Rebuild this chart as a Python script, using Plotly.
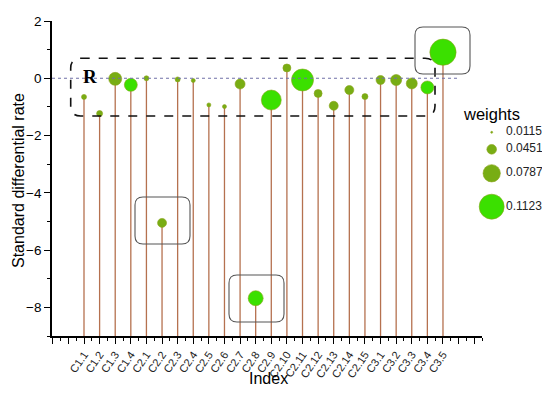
import plotly.graph_objects as go

# ---------------- data ----------------
categories = ["C1.1", "C1.2", "C1.3", "C1.4",
              "C2.1", "C2.2", "C2.3", "C2.4", "C2.5", "C2.6", "C2.7", "C2.8",
              "C2.9", "C2.10", "C2.11", "C2.12", "C2.13", "C2.14", "C2.15",
              "C3.1", "C3.2", "C3.3", "C3.4", "C3.5"]
rates = [-0.65, -1.23, -0.02, -0.23,
         0.00, -5.05, -0.04, -0.08, -0.93, -0.99, -0.20, -7.68,
         -0.76, 0.36, -0.06, -0.53, -0.96, -0.41, -0.64,
         -0.06, -0.06, -0.18, -0.32, 0.91]
weights = [0.0247, 0.0290, 0.0597, 0.0597,
           0.0247, 0.0422, 0.0247, 0.0203, 0.0203, 0.0203, 0.0466, 0.0685,
           0.0904, 0.0378, 0.0992, 0.0378, 0.0422, 0.0422, 0.0290,
           0.0422, 0.0510, 0.0510, 0.0597, 0.1180]
legend_weights = [0.0115, 0.0451, 0.0787, 0.1123]
legend_labels = ["0.0115", "0.0451", "0.0787", "0.1123"]
highlighted = {"C1.4", "C2.8", "C2.9", "C2.11", "C3.4", "C3.5"}

# ---------------- style ----------------
W, H = 550, 397
OFF = 8                                    # page body margin of the html page
PL, PR, PT, PB = 52, 482, 21, 336          # plot area in window pixels
YMIN, YMAX = -9, 2
XMIN, XMAX = -2.05, 25.5
OLIVE = "#78ad14"
BRIGHT = "#3be000"
STEM = "#b5714f"
FONT = "Liberation Sans, Arial, sans-serif"


def size_of(w):
    return 2 + (w - 0.0115) * 228


xs = list(range(len(categories)))
colors = [BRIGHT if c in highlighted else OLIVE for c in categories]

fig = go.Figure()

# stems
sx, sy = [], []
for x, v in zip(xs, rates):
    sx += [x, x, None]
    sy += [YMIN, v, None]
fig.add_trace(go.Scatter(x=sx, y=sy, mode="lines",
                         line=dict(color=STEM, width=1.3),
                         hoverinfo="skip", showlegend=False))

# markers
fig.add_trace(go.Scatter(
    x=xs, y=rates, mode="markers",
    marker=dict(size=[size_of(w) for w in weights], color=colors,
                line=dict(width=0.6, color="#8aa21a"), opacity=1),
    text=categories, showlegend=False))

# custom size legend on a pixel-unit overlay axis
leg_y = [132.3, 149.3, 173.3, 206.7]
fig.add_trace(go.Scatter(
    x=[491.7] * 4, y=leg_y, xaxis="x2", yaxis="y2", mode="markers",
    marker=dict(size=[size_of(w) for w in legend_weights],
                color=[OLIVE, OLIVE, OLIVE, BRIGHT], opacity=1,
                line=dict(width=0.6, color="#8aa21a")),
    opacity=1, showlegend=False, hoverinfo="skip"))
fig.add_trace(go.Scatter(
    x=[506] * 4, y=leg_y, xaxis="x2", yaxis="y2", mode="text",
    text=legend_labels, textposition="middle right",
    textfont=dict(family=FONT, size=12, color="#222"),
    showlegend=False, hoverinfo="skip"))


def rounded(x0, y0, x1, y1, r):
    return (f"M{x0 + r},{y0} L{x1 - r},{y0} Q{x1},{y0} {x1},{y0 + r} "
            f"L{x1},{y1 - r} Q{x1},{y1} {x1 - r},{y1} L{x0 + r},{y1} "
            f"Q{x0},{y1} {x0},{y1 - r} L{x0},{y0 + r} Q{x0},{y0} {x0 + r},{y0} Z")


shapes = [
    dict(type="line", xref="x2", yref="y", x0=PL, x1=460, y0=0, y1=0,
         line=dict(color="#7070a8", width=1.2, dash="dot")),
    dict(type="path", xref="x2", yref="y2", path=rounded(70.7, 58.3, 435, 116, 10),
         line=dict(color="#111", width=1.6, dash="dash")),
    dict(type="path", xref="x2", yref="y2", path=rounded(415, 27, 470, 74, 8),
         line=dict(color="#555", width=1.1)),
    dict(type="path", xref="x2", yref="y2", path=rounded(135, 197, 190, 244, 8),
         line=dict(color="#555", width=1.1)),
    dict(type="path", xref="x2", yref="y2", path=rounded(229, 275, 284, 322, 8),
         line=dict(color="#555", width=1.1)),
]

annotations = [
    dict(text="<b>R</b>", xref="x2", yref="y2", x=90, y=76, showarrow=False,
         font=dict(family="Liberation Serif, Times New Roman, serif", size=19, color="#000")),
    dict(text="weights", xref="x2", yref="y2", x=491, y=114, showarrow=False,
         font=dict(family=FONT, size=16.5, color="#000")),
    dict(text="Index", xref="x2", yref="y2", x=268, y=378, showarrow=False,
         font=dict(family=FONT, size=16, color="#000")),
    dict(text="Standard differential rate", xref="x2", yref="y2", x=18, y=181,
         showarrow=False, textangle=-90,
         font=dict(family=FONT, size=16, color="#000")),
]

tickvals = list(range(-2, 26))
ticktext = [categories[v] if 0 <= v < len(categories) else "" for v in tickvals]

fig.update_layout(
    width=W, height=H, margin=dict(l=0, r=0, t=0, b=0),
    paper_bgcolor="white", plot_bgcolor="rgba(0,0,0,0)",
    font=dict(family=FONT, color="#000"),
    shapes=shapes, annotations=annotations,
    xaxis=dict(domain=[(PL - OFF) / W, (PR - OFF) / W], anchor="y", range=[XMIN, XMAX],
               tickmode="array", tickvals=tickvals, ticktext=ticktext,
               tickangle=-56, tickfont=dict(size=11, color="#222"),
               ticks="outside", ticklen=6, tickwidth=1.3, tickcolor="#000",
               minor=dict(dtick=0.5, tick0=0, ticks="outside", ticklen=3,
                          tickwidth=1.1, tickcolor="#000"),
               showline=True, linecolor="#000", linewidth=1.6,
               showgrid=False, zeroline=False, automargin=False),
    yaxis=dict(domain=[1 - (PB - OFF) / H, 1 - (PT - OFF) / H], anchor="x", range=[YMIN, YMAX],
               tickvals=[2, 0, -2, -4, -6, -8], tickfont=dict(size=13.5),
               ticks="outside", ticklen=6, tickwidth=1.3, tickcolor="#000",
               minor=dict(dtick=1, tick0=0, ticks="outside", ticklen=3,
                          tickwidth=1.1, tickcolor="#000"),
               showline=True, linecolor="#000", linewidth=1.6,
               showgrid=False, zeroline=False, automargin=False),
    # pixel-unit overlay axes (window pixel coordinates)
    xaxis2=dict(domain=[0, 1], anchor="y2", range=[OFF, W + OFF], visible=False,
                fixedrange=True),
    yaxis2=dict(domain=[0, 1], anchor="x2", range=[H + OFF, OFF], visible=False,
                fixedrange=True),
)

fig.write_html("out.html")
